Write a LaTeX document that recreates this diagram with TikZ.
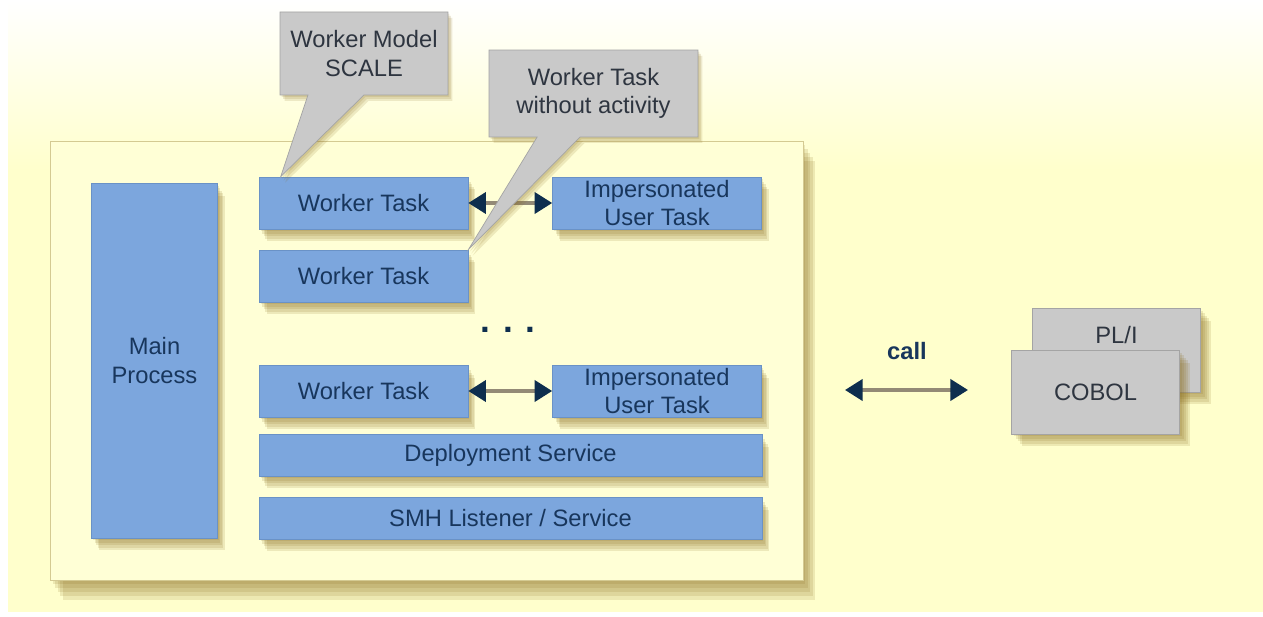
\documentclass[tikz,border=0pt]{standalone}
\usepackage{fontspec}
\setmainfont{Liberation Sans}
\usepackage{tikz}
\usetikzlibrary{arrows.meta,shapes.callouts,shadows,positioning}

\definecolor{bgyellow}{HTML}{FFFFCC}
\definecolor{framefill}{HTML}{FFFFD6}
\definecolor{frameline}{HTML}{D4CA92}
\definecolor{taskblue}{HTML}{7CA6DD}
\definecolor{taskline}{HTML}{6A92C6}
\definecolor{tasktext}{HTML}{18365C}
\definecolor{notegray}{HTML}{C9C9C9}
\definecolor{noteline}{HTML}{A4A4A4}
\definecolor{notetext}{HTML}{2E3540}
\definecolor{tipnavy}{HTML}{0E2E4E}
\definecolor{shaftgray}{HTML}{938A76}
\definecolor{shadowtan}{HTML}{8C6E20}

\begin{document}
\begin{tikzpicture}[
        x=0.02cm, y=-0.02cm,
        every node/.style = {font=\fontsize{13.5}{16}\selectfont},
        tanshadow/.style 2 args = {general shadow={fill=shadowtan, opacity=.15, shadow xshift=#1, shadow yshift=-#2}},
        frame/.style = {draw=frameline, fill=framefill, inner sep=0pt,
            tanshadow={0.05cm}{0.08cm}, tanshadow={0.1cm}{0.16cm}, tanshadow={0.15cm}{0.24cm},
            tanshadow={0.2cm}{0.32cm}, tanshadow={0.25cm}{0.4cm}},
        task/.style = {draw=taskline, fill=taskblue, text=tasktext, align=center, inner sep=0pt,
            tanshadow={0.03cm}{0.05cm}, tanshadow={0.06cm}{0.1cm}, tanshadow={0.09cm}{0.15cm},
            tanshadow={0.12cm}{0.2cm}, tanshadow={0.15cm}{0.25cm}},
        wtask/.style = {task, minimum width=4.18cm, minimum height=1.04cm},
        service/.style = {task, minimum width=10.06cm, minimum height=0.84cm},
        note/.style = {rectangle callout, draw=noteline, fill=notegray, text=notetext, align=center, inner sep=0pt,
            tanshadow={0.03cm}{0.04cm}, tanshadow={0.06cm}{0.08cm}, tanshadow={0.09cm}{0.12cm}},
        lang/.style = {draw=noteline, fill=notegray, text=notetext, inner sep=0pt,
            minimum width=3.36cm, minimum height=1.68cm,
            tanshadow={0.04cm}{0.05cm}, tanshadow={0.08cm}{0.1cm}, tanshadow={0.12cm}{0.15cm},
            tanshadow={0.16cm}{0.2cm}, tanshadow={0.2cm}{0.25cm}},
        link/.style = {draw=shaftgray, line width=2pt,
            {Triangle[length=10pt,width=12pt,color=tipnavy]}-{Triangle[length=10pt,width=12pt,color=tipnavy]}},
        ]
        \useasboundingbox (0,0) rectangle (1263,617);
        \fill[white] (0,0) rectangle (1263,617);
        \fill[bgyellow] (8,0) rectangle (1263,612);
        \shade[top color=white, bottom color=bgyellow] (8,0) rectangle (1263,170);

        \node[frame, minimum width=15.06cm, minimum height=8.78cm](mpframe) at (426.5,360.5) {};

        \node[task, minimum width=2.52cm, minimum height=7.1cm](main) at (154.5,360.5) {Main\\Process};
        \node[wtask](wt1) at (363.5,203) {Worker Task};
        \node[wtask](ut1) at (657,203) {Impersonated\\User Task};
        \node[wtask](wt2) at (363.5,276) {Worker Task};
        \node[wtask](wt3) at (363.5,391) {Worker Task};
        \node[wtask](ut3) at (657,391) {Impersonated\\User Task};
        \node[service](deploy) at (510.5,455) {Deployment Service};
        \node[service](smh) at (510.5,518) {SMH Listener / Service};
        \node[text=tipnavy](dots) at (508,330) {\fontsize{20}{20}\selectfont\bfseries . . .};

        \draw[link] (wt1) -- (ut1);
        \draw[link] (wt3) -- (ut3);

        \node[note, minimum width=3.36cm, minimum height=1.66cm,
            callout absolute pointer={([xshift=0.44cm]wt1.north west)},
            callout pointer width=1.12cm](scale) at (364,53.5) {Worker Model\\SCALE};
        \node[note, minimum width=4.18cm, minimum height=1.74cm,
            callout absolute pointer={(wt2.north east)},
            callout pointer width=0.86cm](idle) at (593.5,93.5) {Worker Task\\without activity};

        \node[lang, text height=0.33cm, text depth=0.6cm](pli) at (1116.5,350) {PL/I};
        \node[lang](cobol) at (1095.5,392) {COBOL};

        \coordinate (callfrom) at (845,390);
        \coordinate (callto) at (968,390);
        \draw[link] (callfrom) -- (callto);
        \node[text=tasktext](calltext) at (907,351) {\bfseries call};
\end{tikzpicture}
\end{document}
